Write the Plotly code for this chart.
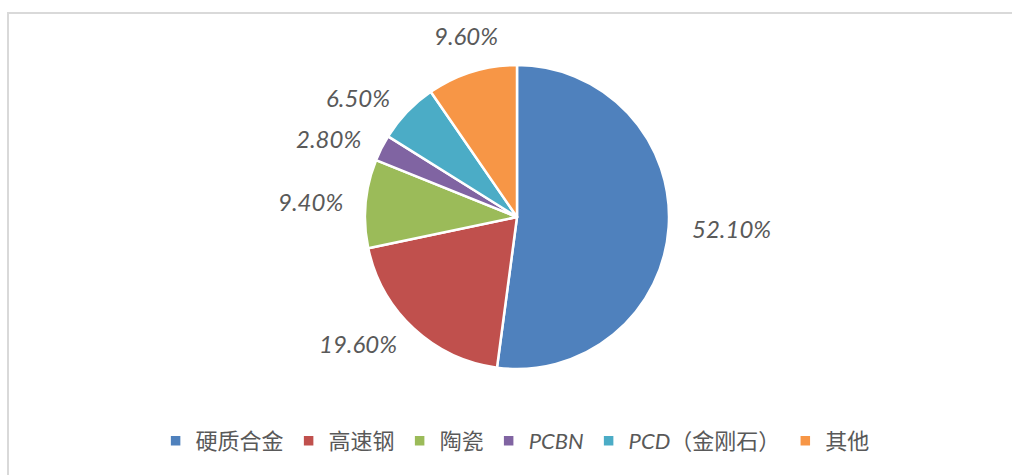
import math
import plotly.graph_objects as go

categories = ["硬质合金", "高速钢", "陶瓷", "<i>PCBN</i>", "<i>PCD</i>（金刚石）", "其他"]
values = [52.1, 19.6, 9.4, 2.8, 6.5, 9.6]
colors = ["#4F81BD", "#C0504D", "#9BBB59", "#8064A2", "#4BACC6", "#F79646"]

W, H = 1012, 475
cx, cy, r = 517, 217, 152
label_gap = 21
label_font = dict(family="Lato, 'Noto Sans CJK SC'", size=24, color="#595959", style="italic")

fig = go.Figure(go.Pie(
    labels=categories,
    values=values,
    sort=False,
    direction="clockwise",
    rotation=0,
    marker=dict(colors=colors, line=dict(color="white", width=2.5)),
    textinfo="none",
    domain=dict(x=[(cx - r) / W, (cx + r) / W], y=[(H - cy - r) / H, (H - cy + r) / H]),
    hoverinfo="label+percent",
))

# outside-end data labels, placed Excel-style from each slice's mid angle
total = sum(values)
cum = 0.0
annotations = []
for v in values:
    mid = (cum + v / 2) / total * 2 * math.pi
    cum += v
    sx, sy = math.sin(mid), -math.cos(mid)  # screen direction (y down)
    ax = cx + (r + label_gap) * sx
    ay = cy + (r + label_gap) * sy
    if abs(sx) > 0.4:
        xanchor = "left" if sx > 0 else "right"
        yanchor = "middle"
    else:
        xanchor = "center"
        yanchor = "bottom" if sy < 0 else "top"
    annotations.append(dict(
        x=ax / W, y=1 - ay / H, xref="paper", yref="paper",
        text=f"{v:.2f}%", showarrow=False,
        xanchor=xanchor, yanchor=yanchor, font=label_font,
    ))

fig.update_layout(
    width=W, height=H,
    margin=dict(l=0, r=0, t=0, b=0),
    paper_bgcolor="white",
    plot_bgcolor="white",
    showlegend=True,
    legend=dict(
        orientation="h",
        x=0.509, xanchor="center",
        y=34 / H, yanchor="middle",
        font=dict(family="Lato, 'Noto Sans CJK SC'", size=22, color="#595959"),
        itemwidth=30,
    ),
    annotations=annotations,
    shapes=[dict(
        type="rect", xref="paper", yref="paper",
        x0=8 / W, x1=1.02, y0=-0.02, y1=1 - 13 / H,
        line=dict(color="#D9D9D9", width=2),
        fillcolor="rgba(0,0,0,0)",
    )],
)

fig.write_html(
    "out.html",
    config={"displayModeBar": False},
    post_script="document.body.style.margin='0';document.body.style.overflow='hidden';",
)
